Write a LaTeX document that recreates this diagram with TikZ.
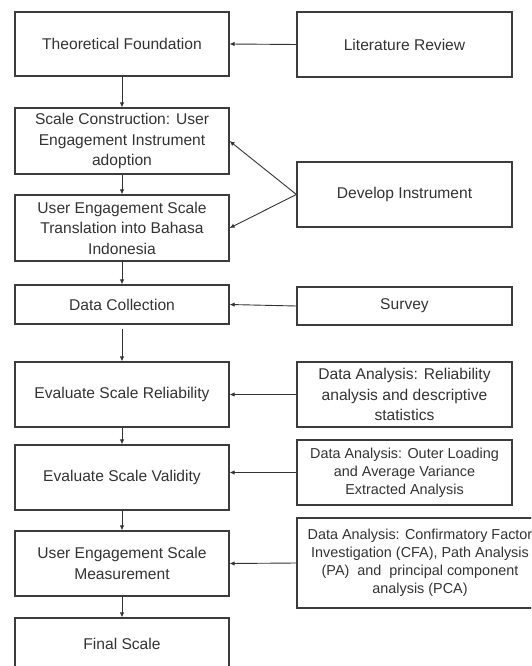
\documentclass[tikz,border=0pt]{standalone}
\usepackage{fontspec}
\setmainfont{Liberation Sans}
\usetikzlibrary{arrows.meta}
\definecolor{ink}{HTML}{333333}
\definecolor{frame}{HTML}{3C3C3C}
\begin{document}
\begin{tikzpicture}[x=1pt,y=-1pt,
  stepbox/.style={draw=frame,line width=1.2pt,rectangle,align=center,text=ink,
    inner sep=0pt,font=\fontsize{15.6}{20.5}\selectfont},
  leftbox/.style={stepbox,minimum width=214pt},
  rightbox/.style={stepbox,minimum width=215pt},
  smalltext/.style={font=\fontsize{14.4}{18}\selectfont},
  flow/.style={draw=ink,line width=0.9pt,-{Latex[length=5pt,width=4.5pt]}}]
\useasboundingbox (0,0) rectangle (531,666);
\clip (0,0) rectangle (531,666);
\fill[white] (0,0) rectangle (531,666);

% main process column
\node[leftbox,minimum height=64pt] (tf) at (122,44) {Theoretical Foundation};
\node[leftbox,minimum height=66pt] (sc) at (122,141) {Scale Construction: User\\Engagement Instrument\\adoption};
\node[leftbox,minimum height=66pt] (tr) at (122,228) {User Engagement Scale\\Translation into Bahasa\\Indonesia};
\node[leftbox,minimum height=39pt] (dc) at (122,304.5) {Data Collection};
\node[leftbox,minimum height=65pt] (rel) at (122,394.5) {Evaluate Scale Reliability};
\node[leftbox,minimum height=65pt] (val) at (122,477.5) {Evaluate Scale Validity};
\node[leftbox,minimum height=65pt] (mes) at (122,563.5) {User Engagement Scale\\Measurement};
\node[leftbox,minimum height=52pt] (fin) at (122,644) {Final Scale};

% supporting activities
\node[rightbox,minimum height=65pt] (lr) at (404.5,44.5) {Literature Review};
\node[rightbox,minimum height=65pt] (di) at (404.5,194.5) {Develop Instrument};
\node[rightbox,minimum height=38pt] (sv) at (404.5,306) {Survey};
\node[rightbox,minimum height=65pt] (da1) at (404.5,394.5) {Data Analysis: Reliability\\analysis and descriptive\\statistics};
\node[rightbox,smalltext,minimum height=65pt] (da2) at (404.5,472.5) {Data Analysis: Outer Loading\\and Average Variance\\Extracted Analysis};
\node[stepbox,smalltext,minimum width=246pt,minimum height=90pt] (da3) at (420,563) {Data Analysis: Confirmatory Factor\\Investigation (CFA), Path Analysis\\(PA)\ \ and\ \ principal component\\analysis (PCA)};

% vertical flow
\draw[flow] (tf) -- (sc);
\draw[flow] (sc) -- (tr);
\draw[flow] (tr) -- (dc);
\draw[flow,shorten <=4pt] (dc) -- (rel);
\draw[flow] (rel) -- (val);
\draw[flow] (val) -- (mes);
\draw[flow] (mes) -- (fin);

% inputs from the right
\draw[flow] (lr.west) -- (tf.east);
\draw[flow] (di.west) -- (sc.east);
\draw[flow] (di.west) -- (tr.east);
\draw[flow] (sv.west) -- (dc.east);
\draw[flow] (da1.west) -- (rel.east);
\draw[flow] (da2.west) -- (da2.west -| val.east);
\draw[flow] (da3.west) -- (mes.east);
\end{tikzpicture}
\end{document}
